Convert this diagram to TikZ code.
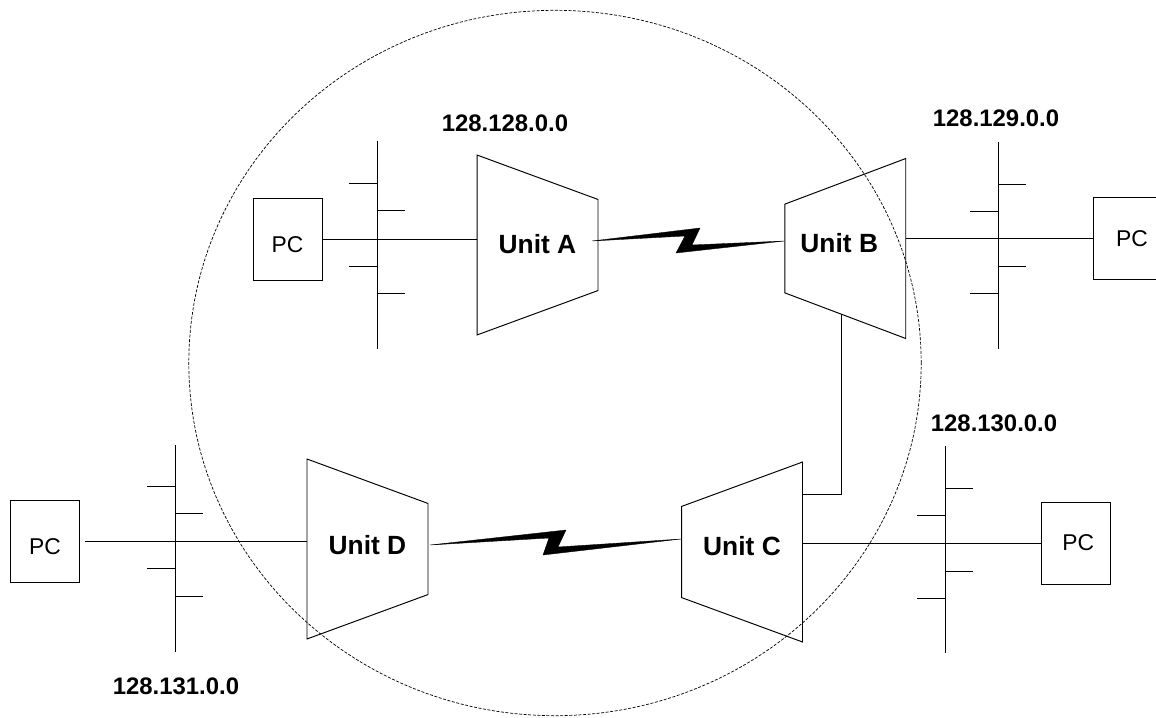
\documentclass[tikz,border=0pt]{standalone}
\usepackage{fontspec}
\setmainfont{Liberation Sans}
\usetikzlibrary{shapes.geometric,positioning}

\tikzset{
  wire/.style={line width=.55pt},
  pcbox/.style={draw,wire,rectangle,inner sep=0pt,minimum width=1.38cm,minimum height=1.64cm,font=\fontsize{13}{15}\selectfont},
  unit/.style={draw,wire,trapezium,trapezium angle=60.2,trapezium stretches body=true,inner sep=0pt,minimum width=3.6cm,minimum height=2.42cm,font=\fontsize{15}{17}\selectfont\bfseries},
  subnet/.style={inner sep=0pt,font=\fontsize{13.6}{15}\selectfont\bfseries},
  bolt/.style={fill=black,line width=.2pt},
}

\begin{document}
\begin{tikzpicture}[x=.02cm,y=-.02cm]
\useasboundingbox (0,0) rectangle (1156,717);

\node[draw,ellipse,line width=.4pt,dash pattern=on 1.7pt off .9pt,inner sep=0pt,minimum width=14.65cm,minimum height=14.11cm] (domain) at (555,363) {};%

\node[unit,shape border rotate=270] (A) at (537.5,245) {\raisebox{-4.8pt}[0pt][0pt]{Unit A}};%
\node[unit,shape border rotate=90,trapezium angle=63] (B) at (845.25,248.5) {\raisebox{-2.25pt}[0pt][0pt]{Unit B\hspace*{.24cm}}};%
\node[unit,shape border rotate=90] (C) at (742,552) {\raisebox{-1.95pt}[0pt][0pt]{Unit C}};%
\node[unit,shape border rotate=270] (D) at (367.5,549) {\raisebox{-3.35pt}[0pt][0pt]{Unit D}};%

\node[pcbox] (pcA) at (287.5,239) {\raisebox{-7.5pt}[0pt][0pt]{PC}};%
\node[pcbox] (pcB) at (1128,238.5) {\hspace*{4.5pt}PC};%
\node[pcbox] (pcC) at (1075.5,543) {\hspace*{3pt}PC};%
\node[pcbox] (pcD) at (45,541) {\raisebox{-7.5pt}[0pt][0pt]{PC}};%

\node[subnet] (netA) at (505,123) {128.128.0.0};%
\node[subnet] (netB) at (996,118) {128.129.0.0};%
\node[subnet] (netC) at (994,423) {128.130.0.0};%
\node[subnet] (netD) at (176,686) {128.131.0.0};%

% buses
\coordinate (busAt) at (377,141);
\coordinate (busAb) at (377,349);
\coordinate (busBt) at (998,142);
\coordinate (busBb) at (998,349);
\coordinate (busCt) at (945,446);
\coordinate (busCb) at (945,653);
\coordinate (busDt) at (175,445);
\coordinate (busDb) at (175,652);
\draw [wire] (busAt) -- (busAb);%
\draw [wire] (busBt) -- (busBb);%
\draw [wire] (busCt) -- (busCb);%
\draw [wire] (busDt) -- (busDb);%

\draw [wire] (377,183) --+ (-28,0);
\draw [wire] (377,210.5) --+ (28,0);
\draw [wire] (377,266) --+ (-28,0);
\draw [wire] (377,293) --+ (28,0);

\draw [wire] (998,184) --+ (28,0);
\draw [wire] (998,211) --+ (-28,0);
\draw [wire] (998,266) --+ (28,0);
\draw [wire] (998,293.5) --+ (-28,0);

\draw [wire] (945,488) --+ (28,0);
\draw [wire] (945,515.5) --+ (-28,0);
\draw [wire] (945,571) --+ (28,0);
\draw [wire] (945,598) --+ (-28,0);

\draw [wire] (175,486) --+ (-28,0);
\draw [wire] (175,513) --+ (28,0);
\draw [wire] (175,568.5) --+ (-28,0);
\draw [wire] (175,596) --+ (28,0);

% links
\coordinate (gapD) at (85,541);
\draw [wire] (pcA) -- (pcA -| A.west);%
\draw [wire] (pcB) -- (pcB -| B.east);%
\draw [wire] (pcC) -- (pcC -| C.east);%
\draw [wire] (gapD) -- (gapD -| D.west);%

\coordinate (linkB) at (841,314);
\coordinate (linkC) at (C.east |- 0,494);
\draw [wire] (linkB) |- (linkC);

\coordinate (boltAs) at (592,241);
\coordinate (boltBe) at (B.west |- 0,241);
\draw [bolt] (boltAs) -- (700,228) -- (692,245) -- (boltBe) -- (676,253) -- (685,236) -- cycle;

\coordinate (boltDs) at (430,545);
\coordinate (boltCe) at (C.west |- 0,539);
\draw [bolt] (boltDs) -- (566,530) -- (558,547) -- (boltCe) -- (543,555) -- (549,538) -- cycle;

\end{tikzpicture}
\end{document}
